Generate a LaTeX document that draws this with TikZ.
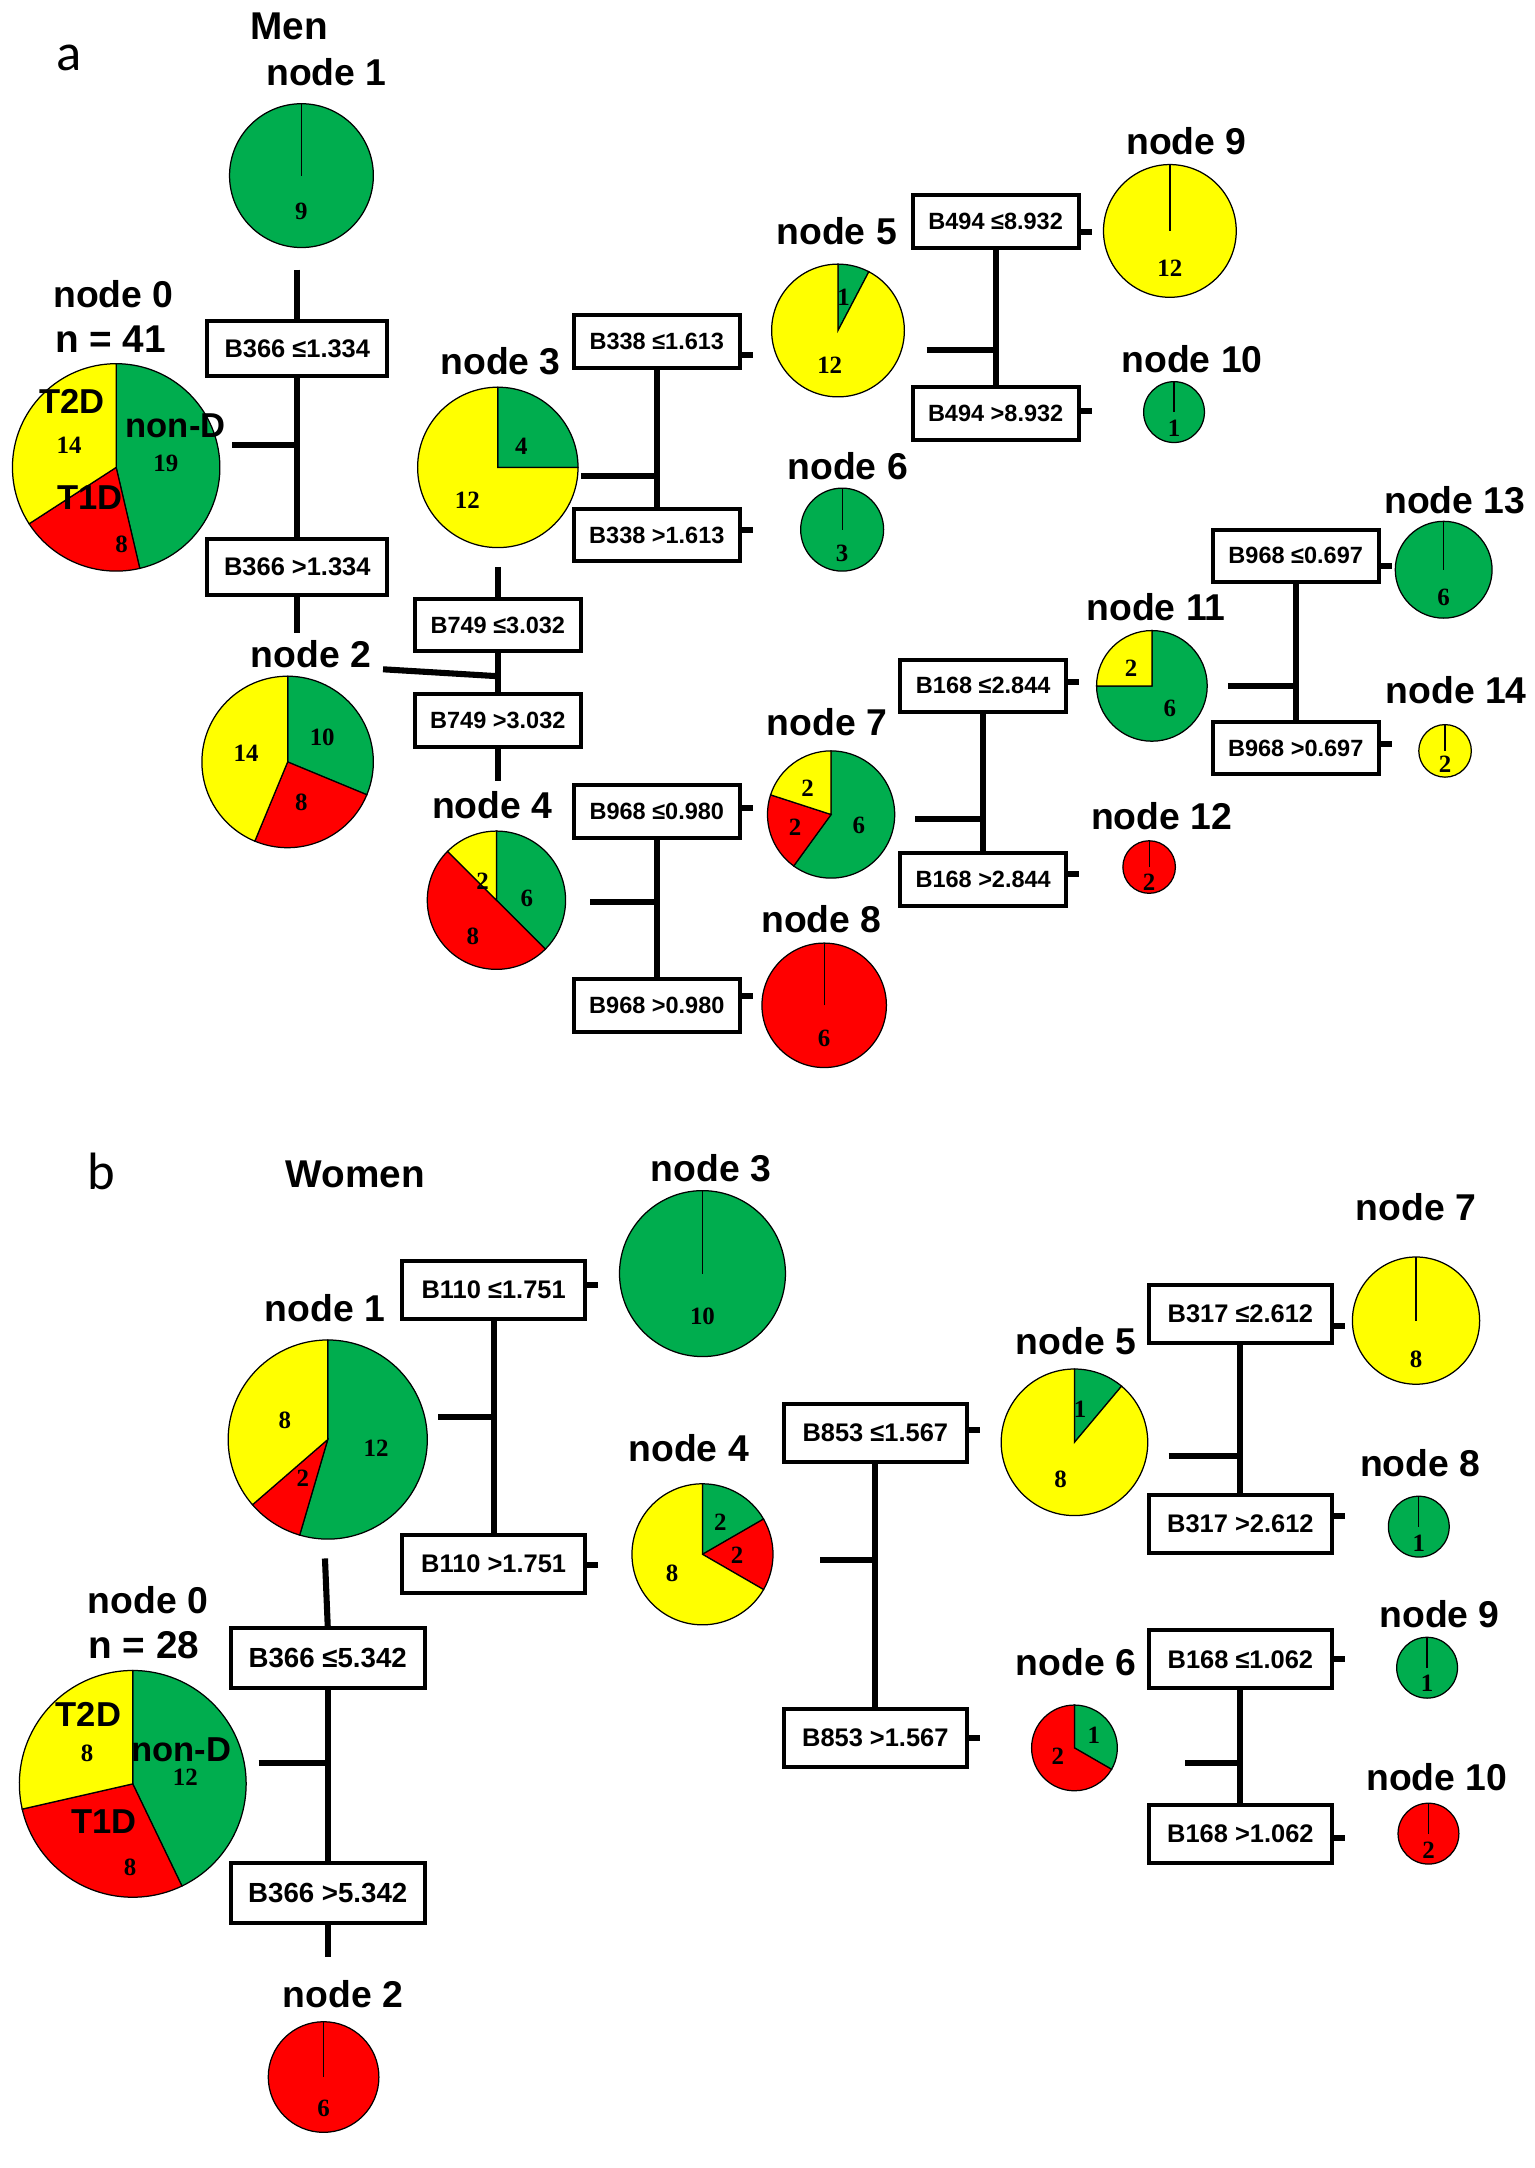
\documentclass[tikz,border=0pt]{standalone}
\usepackage{fontspec}
\setmainfont{Liberation Sans}
\newfontfamily\boxf{Liberation Sans}
\newfontfamily\numf{Liberation Serif}
\newfontfamily\panf{Carlito}
\definecolor{pgreen}{RGB}{0,173,78}
\definecolor{pyellow}{RGB}{255,255,0}
\definecolor{pred}{RGB}{255,0,0}
% pie slice: centre coordinate, radius, start angle, end angle, colour
\newcommand{\pslice}[5]{\filldraw[fill=#5,draw=black,line width=0.45pt] (#1) -- ++(#3:#2) arc[start angle=#3,end angle=#4,radius=#2] -- cycle;}
% single-class pie: centre coordinate, radius, colour
\newcommand{\pfull}[3]{\filldraw[fill=#3,draw=black,line width=0.45pt] (#1) circle[radius=#2]; \draw[line width=0.45pt] (#1) -- ++(0,#2);}
\tikzset{
  sbox/.style={draw,line width=1.45pt,fill=white,inner sep=0pt,minimum width=60pt,minimum height=19pt,font=\boxf\bfseries\fontsize{8.5}{10}\selectfont},
  bboxa/.style={sbox,minimum width=65pt,minimum height=20pt,font=\boxf\bfseries\fontsize{9.2}{11}\selectfont},
  boxb/.style={sbox,minimum width=66pt,minimum height=21pt,font=\boxf\bfseries\fontsize{9.2}{11}\selectfont},
  bboxb/.style={sbox,minimum width=70pt,minimum height=21.5pt,font=\boxf\bfseries\fontsize{10}{12}\selectfont},
  conn/.style={line width=2.2pt},
  tick/.style={line width=2.2pt},
  nlab/.style={inner sep=0pt,font=\bfseries\fontsize{13.5}{16}\selectfont},
  title/.style={inner sep=0pt,font=\bfseries\fontsize{14}{16}\selectfont},
  clab/.style={inner sep=0pt,font=\bfseries\fontsize{12.5}{15}\selectfont},
  num/.style={inner sep=0pt,font=\numf\bfseries\fontsize{9}{11}\selectfont},
  panlab/.style={inner sep=0pt,font=\panf\fontsize{19}{22}\selectfont}
}
\begin{document}
\begin{tikzpicture}[x=0.5pt,y=0.5pt]
\useasboundingbox (0,0) rectangle (1110,-1567.8);
%%%%%%%%%%%%%%%% panel a
\node[panlab] (la) at (50,-42) {a};
\node[title] (men) at (209,-19) {Men};
% pie centres
\coordinate (pa0) at (84,-338);
\coordinate (pa1) at (218,-127);
\coordinate (pa2) at (208,-551);
\coordinate (pa3) at (360,-338);
\coordinate (pa4) at (359,-651);
\coordinate (pa5) at (606,-239);
\coordinate (pa6) at (609,-383);
\coordinate (pa7) at (601,-589);
\coordinate (pa8) at (596,-727);
\coordinate (pa9) at (846,-167);
\coordinate (pa10) at (849,-298);
\coordinate (pa11) at (833,-496);
\coordinate (pa12) at (831,-627);
\coordinate (pa13) at (1044,-412);
\coordinate (pa14) at (1045,-543);
% pies
\pslice{pa0}{75}{-76.83}{90}{pgreen}
\pslice{pa0}{75}{-147.07}{-76.83}{pred}
\pslice{pa0}{75}{90}{212.93}{pyellow}
\pfull{pa1}{52}{pgreen}
\pslice{pa2}{62}{-22.5}{90}{pgreen}
\pslice{pa2}{62}{-112.5}{-22.5}{pred}
\pslice{pa2}{62}{90}{247.5}{pyellow}
\pslice{pa3}{58}{0}{90}{pgreen}
\pslice{pa3}{58}{90}{360}{pyellow}
\pslice{pa4}{50}{-45}{90}{pgreen}
\pslice{pa4}{50}{135}{315}{pred}
\pslice{pa4}{50}{90}{135}{pyellow}
\pslice{pa5}{48}{62.31}{90}{pgreen}
\pslice{pa5}{48}{90}{422.31}{pyellow}
\pfull{pa6}{30}{pgreen}
\pslice{pa7}{46}{-126}{90}{pgreen}
\pslice{pa7}{46}{162}{234}{pred}
\pslice{pa7}{46}{90}{162}{pyellow}
\pfull{pa8}{45}{pred}
\pfull{pa9}{48}{pyellow}
\pfull{pa10}{22}{pgreen}
\pslice{pa11}{40}{-180}{90}{pgreen}
\pslice{pa11}{40}{90}{180}{pyellow}
\pfull{pa12}{19}{pred}
\pfull{pa13}{35}{pgreen}
\pfull{pa14}{19}{pyellow}
% node labels
\node[nlab] (ta0) at (82,-213) {node 0};
\node[title] (na0) at (80,-245) {n = 41};
\node[nlab] (ta1) at (236,-52) {node 1};
\node[nlab] (ta2) at (225,-473) {node 2};
\node[nlab] (ta3) at (362,-261) {node 3};
\node[nlab] (ta4) at (356,-582) {node 4};
\node[nlab] (ta5) at (605,-167) {node 5};
\node[nlab] (ta6) at (613,-337) {node 6};
\node[nlab] (ta7) at (598,-522) {node 7};
\node[nlab] (ta8) at (594,-665) {node 8};
\node[nlab] (ta9) at (858,-102) {node 9};
\node[nlab] (ta10) at (862,-260) {node 10};
\node[nlab] (ta11) at (836,-439) {node 11};
\node[nlab] (ta12) at (840,-590) {node 12};
\node[nlab] (ta13) at (1052,-362) {node 13};
\node[nlab] (ta14) at (1053,-499) {node 14};
% class labels and counts
\node[clab] (ca1) at (52,-290) {T2D};
\node[clab] (ca2) at (127,-308) {non-D};
\node[clab] (ca3) at (65,-360) {T1D};
\node[num] (a0y) at (50,-322) {14};
\node[num] (a0g) at (120,-335) {19};
\node[num] (a0r) at (88,-394) {8};
\node[num] (a1g) at (218,-153) {9};
\node[num] (a2g) at (233,-533) {10};
\node[num] (a2r) at (218,-580) {8};
\node[num] (a2y) at (178,-545) {14};
\node[num] (a3g) at (377,-323) {4};
\node[num] (a3y) at (338,-362) {12};
\node[num] (a4y) at (349,-637) {2};
\node[num] (a4g) at (381,-650) {6};
\node[num] (a4r) at (342,-677) {8};
\node[num] (a5g) at (610,-215) {1};
\node[num] (a5y) at (600,-264) {12};
\node[num] (a6g) at (609,-400) {3};
\node[num] (a7y) at (584,-570) {2};
\node[num] (a7r) at (575,-598) {2};
\node[num] (a7g) at (621,-597) {6};
\node[num] (a8r) at (596,-751) {6};
\node[num] (a9y) at (846,-194) {12};
\node[num] (a10g) at (849,-310) {1};
\node[num] (a11y) at (818,-483) {2};
\node[num] (a11g) at (846,-512) {6};
\node[num] (a12r) at (831,-638) {2};
\node[num] (a13g) at (1044,-432) {6};
\node[num] (a14y) at (1045,-553) {2};
% split boxes
\node[bboxa] (a1l) at (215,-252) {B366 ≤1.334};
\node[bboxa] (a1h) at (215,-410) {B366 >1.334};
\node[sbox] (a2l) at (360,-452) {B749 ≤3.032};
\node[sbox] (a2h) at (360,-521) {B749 >3.032};
\node[sbox] (a3l) at (475,-247) {B338 ≤1.613};
\node[sbox] (a3h) at (475,-387) {B338 >1.613};
\node[sbox] (a4l) at (720,-160) {B494 ≤8.932};
\node[sbox] (a4h) at (720,-299) {B494 >8.932};
\node[sbox] (a5l) at (475,-587) {B968 ≤0.980};
\node[sbox] (a5h) at (475,-727) {B968 >0.980};
\node[sbox] (a6l) at (711,-496) {B168 ≤2.844};
\node[sbox] (a6h) at (711,-636) {B168 >2.844};
\node[sbox] (a7l) at (937,-402) {B968 ≤0.697};
\node[sbox] (a7h) at (937,-541) {B968 >0.697};
% connector ends
\coordinate (sa1) at (168,-322);
\coordinate (ua1) at (215,-195);
\coordinate (da1) at (215,-458);
\coordinate (sa2) at (277,-484);
\coordinate (ja2) at (360,-489);
\coordinate (ua2) at (360,-410);
\coordinate (da2) at (360,-565);
\coordinate (sa3) at (420,-344);
\coordinate (sa4) at (670,-253);
\coordinate (sa5) at (427,-652);
\coordinate (sa6) at (662,-592);
\coordinate (sa7) at (888,-496);
% connectors
\draw[conn] (ua1) -- (a1l.north);
\draw[conn] (a1l.south) -- (a1h.north);
\draw[conn] (a1h.south) -- (da1);
\draw[conn] (sa1) -- (sa1 -| a1l.south);
\draw[conn] (ua2) -- (a2l.north);
\draw[conn] (a2l.south) -- (a2h.north);
\draw[conn] (a2h.south) -- (da2);
\draw[conn] (sa2) -- (ja2);
\draw[conn] (a3l.south) -- (a3h.north);
\draw[conn] (sa3) -- (sa3 -| a3l.south);
\draw[conn] (a4l.south) -- (a4h.north);
\draw[conn] (sa4) -- (sa4 -| a4l.south);
\draw[conn] (a5l.south) -- (a5h.north);
\draw[conn] (sa5) -- (sa5 -| a5l.south);
\draw[conn] (a6l.south) -- (a6h.north);
\draw[conn] (sa6) -- (sa6 -| a6l.south);
\draw[conn] (a7l.south) -- (a7h.north);
\draw[conn] (sa7) -- (sa7 -| a7l.south);
% ticks
\draw[tick] (a3l.east |- 0,-257) -- ++(8,0);
\draw[tick] (a3h.east |- 0,-383) -- ++(8,0);
\draw[tick] (a4l.east |- 0,-168) -- ++(8,0);
\draw[tick] (a4h.east |- 0,-297) -- ++(8,0);
\draw[tick] (a5l.east |- 0,-584) -- ++(8,0);
\draw[tick] (a5h.east |- 0,-720) -- ++(8,0);
\draw[tick] (a6l.east |- 0,-493) -- ++(8,0);
\draw[tick] (a6h.east |- 0,-632) -- ++(8,0);
\draw[tick] (a7l.east |- 0,-409) -- ++(8,0);
\draw[tick] (a7h.east |- 0,-538) -- ++(8,0);
%%%%%%%%%%%%%%%% panel b
\node[panlab] (lb) at (73,-847) {b};
\node[title] (women) at (257,-849) {Women};
\coordinate (pb0) at (96,-1290);
\coordinate (pb1) at (237,-1041);
\coordinate (pb2) at (234,-1502);
\coordinate (pb3) at (508,-921);
\coordinate (pb4) at (508,-1124);
\coordinate (pb5) at (777,-1043);
\coordinate (pb6) at (777,-1264);
\coordinate (pb7) at (1024,-955);
\coordinate (pb8) at (1026,-1104);
\coordinate (pb9) at (1032,-1206);
\coordinate (pb10) at (1033,-1326);
\pslice{pb0}{82}{-64.29}{90}{pgreen}
\pslice{pb0}{82}{-167.14}{-64.29}{pred}
\pslice{pb0}{82}{90}{192.86}{pyellow}
\pslice{pb1}{72}{-106.36}{90}{pgreen}
\pslice{pb1}{72}{-139.09}{-106.36}{pred}
\pslice{pb1}{72}{90}{220.91}{pyellow}
\pfull{pb2}{40}{pred}
\pfull{pb3}{60}{pgreen}
\pslice{pb4}{51}{30}{90}{pgreen}
\pslice{pb4}{51}{-30}{30}{pred}
\pslice{pb4}{51}{90}{330}{pyellow}
\pslice{pb5}{53}{50}{90}{pgreen}
\pslice{pb5}{53}{90}{410}{pyellow}
\pslice{pb6}{31}{-30}{90}{pgreen}
\pslice{pb6}{31}{90}{330}{pred}
\pfull{pb7}{46}{pyellow}
\pfull{pb8}{22}{pgreen}
\pfull{pb9}{22}{pgreen}
\pfull{pb10}{22}{pred}
\node[nlab] (tb0) at (107,-1157) {node 0};
\node[title] (nb0) at (104,-1190) {n = 28};
\node[nlab] (tb1) at (235,-946) {node 1};
\node[nlab] (tb2) at (248,-1442) {node 2};
\node[nlab] (tb3) at (514,-845) {node 3};
\node[nlab] (tb4) at (498,-1047) {node 4};
\node[nlab] (tb5) at (778,-970) {node 5};
\node[nlab] (tb6) at (778,-1202) {node 6};
\node[nlab] (tb7) at (1024,-873) {node 7};
\node[nlab] (tb8) at (1027,-1058) {node 8};
\node[nlab] (tb9) at (1041,-1167) {node 9};
\node[nlab] (tb10) at (1039,-1285) {node 10};
\node[clab] (cb1) at (64,-1240) {T2D};
\node[clab] (cb2) at (131,-1265) {non-D};
\node[clab] (cb3) at (75,-1317) {T1D};
\node[num] (b0y) at (63,-1268) {8};
\node[num] (b0g) at (134,-1285) {12};
\node[num] (b0r) at (94,-1350) {8};
\node[num] (b1y) at (206,-1027) {8};
\node[num] (b1g) at (272,-1047) {12};
\node[num] (b1r) at (219,-1069) {2};
\node[num] (b2r) at (234,-1525) {6};
\node[num] (b3g) at (508,-952) {10};
\node[num] (b4g) at (521,-1101) {2};
\node[num] (b4r) at (533,-1125) {2};
\node[num] (b4y) at (486,-1138) {8};
\node[num] (b5g) at (781,-1019) {1};
\node[num] (b5y) at (767,-1070) {8};
\node[num] (b6g) at (791,-1255) {1};
\node[num] (b6r) at (765,-1270) {2};
\node[num] (b7y) at (1024,-983) {8};
\node[num] (b8g) at (1026,-1116) {1};
\node[num] (b9g) at (1032,-1217) {1};
\node[num] (b10r) at (1033,-1338) {2};
\node[bboxb] (b0l) at (237,-1199) {B366 ≤5.342};
\node[bboxb] (b0h) at (237,-1369) {B366 >5.342};
\node[boxb] (b1l) at (357,-933) {B110 ≤1.751};
\node[boxb] (b1h) at (357,-1131) {B110 >1.751};
\node[boxb] (b2l) at (633,-1036) {B853 ≤1.567};
\node[boxb] (b2h) at (633,-1257) {B853 >1.567};
\node[boxb] (b3l) at (897,-950) {B317 ≤2.612};
\node[boxb] (b3h) at (897,-1102) {B317 >2.612};
\node[boxb] (b4l) at (897,-1200) {B168 ≤1.062};
\node[boxb] (b4h) at (897,-1326) {B168 >1.062};
\coordinate (ub0) at (235,-1127);
\coordinate (db0) at (237,-1415);
\coordinate (sb0) at (187,-1275);
\coordinate (sb1) at (317,-1025);
\coordinate (sb2) at (593,-1128);
\coordinate (sb3) at (845,-1053);
\coordinate (sb4) at (857,-1275);
\draw[conn] (ub0) -- (b0l.north);
\draw[conn] (b0l.south) -- (b0h.north);
\draw[conn] (b0h.south) -- (db0);
\draw[conn] (sb0) -- (sb0 -| b0l.south);
\draw[conn] (b1l.south) -- (b1h.north);
\draw[conn] (sb1) -- (sb1 -| b1l.south);
\draw[conn] (b2l.south) -- (b2h.north);
\draw[conn] (sb2) -- (sb2 -| b2l.south);
\draw[conn] (b3l.south) -- (b3h.north);
\draw[conn] (sb3) -- (sb3 -| b3l.south);
\draw[conn] (b4l.south) -- (b4h.north);
\draw[conn] (sb4) -- (sb4 -| b4l.south);
\draw[tick] (b1l.east |- 0,-929) -- ++(8,0);
\draw[tick] (b1h.east |- 0,-1132) -- ++(8,0);
\draw[tick] (b2l.east |- 0,-1034) -- ++(8,0);
\draw[tick] (b2h.east |- 0,-1257) -- ++(8,0);
\draw[tick] (b3l.east |- 0,-959) -- ++(8,0);
\draw[tick] (b3h.east |- 0,-1096) -- ++(8,0);
\draw[tick] (b4l.east |- 0,-1200) -- ++(8,0);
\draw[tick] (b4h.east |- 0,-1329) -- ++(8,0);
\end{tikzpicture}
\end{document}
